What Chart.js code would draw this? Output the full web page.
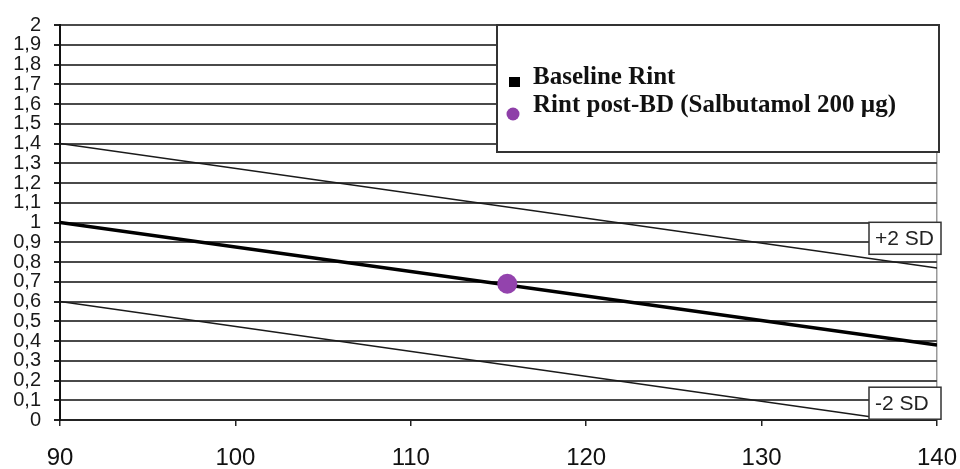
<!DOCTYPE html>
<html>
<head>
<meta charset="utf-8">
<script src="https://cdn.jsdelivr.net/npm/chart.js@4.4.1/dist/chart.umd.min.js"></script>
<style>
  html, body { margin: 0; padding: 0; background: #fff; }
  #wrap { width: 960px; height: 469px; }
</style>
</head>
<body>
<div id="wrap"><canvas id="rintChart" width="960" height="469"></canvas></div>
<script>
// height on x, Rint on y
const heightRange = [90, 140];
const baselineRint = [1.0, 0.38];
const upperSD = [1.4, 0.77];
const lowerSDx = [90, 137.5];
const lowerSD = [0.6, 0];
const postBD = [{ x: 115.5, y: 0.69 }];
const sdLabels = [
    { text: '+2 SD', y: 0.92 },
    { text: '-2 SD', y: 0.085 }
];

const toPoints = (xs, ys) => xs.map((x, i) => ({ x: x, y: ys[i] }));
const fmtComma = v => String(Math.round(v * 10) / 10).replace('.', ',');

// legend box + the +/-2 SD tags, drawn over the grid
const overlayPlugin = {
    id: 'overlay',
    afterDatasetsDraw(chart) {
        const ctx = chart.ctx;
        const area = chart.chartArea;
        const yScale = chart.scales.y;

        // legend
        const lx = area.left + 437, ly = area.top;
        const lw = area.right + 2 - lx, lh = 127;
        ctx.save();
        ctx.fillStyle = '#fff';
        ctx.fillRect(lx, ly, lw, lh);
        ctx.strokeStyle = '#333';
        ctx.lineWidth = 2;
        ctx.strokeRect(lx, ly, lw, lh);

        const items = chart.data.datasets
            .filter(d => d.legendShape)
            .sort((a, b) => a.legendIndex - b.legendIndex);
        ctx.font = 'bold 25px "Liberation Serif", "Times New Roman", serif';
        ctx.textBaseline = 'alphabetic';
        ctx.textAlign = 'left';
        items.forEach((d, i) => {
            const base = ly + 59 + i * 28;
            ctx.fillStyle = d.legendColor;
            if (d.legendShape === 'rect') {
                ctx.fillRect(lx + 12, base - 7, 11, 10);
            } else {
                ctx.beginPath();
                ctx.arc(lx + 16, base + 2, 6.5, 0, Math.PI * 2);
                ctx.fill();
            }
            ctx.fillStyle = '#111';
            ctx.fillText(d.label, lx + 36, base);
        });

        // SD tags
        ctx.font = '21px "Liberation Sans", Arial, sans-serif';
        ctx.textBaseline = 'middle';
        sdLabels.forEach(s => {
            const cy = yScale.getPixelForValue(s.y);
            const bw = 72, bh = 32;
            const bx = area.right + 4 - bw;
            ctx.fillStyle = '#fff';
            ctx.fillRect(bx, cy - bh / 2, bw, bh);
            ctx.strokeStyle = '#333';
            ctx.lineWidth = 1.5;
            ctx.strokeRect(bx, cy - bh / 2, bw, bh);
            ctx.fillStyle = '#222';
            ctx.fillText(s.text, bx + 6, cy + 1);
        });
        ctx.restore();
    }
};

const ctx = document.getElementById('rintChart').getContext('2d');
new Chart(ctx, {
    type: 'scatter',
    data: {
        datasets: [
            {
                label: 'Rint post-BD (Salbutamol 200 µg)',
                data: postBD,
                pointRadius: 10,
                pointBackgroundColor: '#9343ad',
                pointBorderWidth: 0,
                showLine: false,
                order: 0,
                legendShape: 'circle',
                legendIndex: 1,
                legendColor: '#8e3fa8'
            },
            {
                label: 'Baseline Rint',
                data: toPoints(heightRange, baselineRint),
                showLine: true,
                borderColor: '#000',
                borderWidth: 3.5,
                pointRadius: 0,
                order: 1,
                legendShape: 'rect',
                legendIndex: 0,
                legendColor: '#000'
            },
            {
                label: '+2 SD',
                data: toPoints(heightRange, upperSD),
                showLine: true,
                borderColor: '#1a1a1a',
                borderWidth: 1.5,
                pointRadius: 0,
                order: 1
            },
            {
                label: '-2 SD',
                data: toPoints(lowerSDx, lowerSD),
                showLine: true,
                borderColor: '#1a1a1a',
                borderWidth: 1.5,
                pointRadius: 0,
                order: 1
            }
        ]
    },
    options: {
        responsive: false,
        animation: false,
        layout: { padding: { top: 23, right: 23, left: 0, bottom: 0 } },
        plugins: {
            legend: { display: false },
            tooltip: { enabled: false }
        },
        scales: {
            x: {
                type: 'linear',
                min: 90,
                max: 140,
                afterFit: s => {
                    s.height = 49;
                    s.paddingLeft = 0;
                    s.paddingRight = 0;
                },
                ticks: {
                    stepSize: 10,
                    color: '#111',
                    padding: 18,
                    font: { family: '"Liberation Sans", Arial, sans-serif', size: 24 }
                },
                grid: {
                    drawOnChartArea: true,
                    color: c => (c.tick && c.tick.value === 140 ? '#9a9a9a' : 'rgba(0,0,0,0)'),
                    tickColor: '#222',
                    tickLength: 6,
                    lineWidth: 1.5
                },
                border: { color: '#222', width: 2 }
            },
            y: {
                min: 0,
                max: 2,
                afterFit: s => { s.width = 60; },
                ticks: {
                    stepSize: 0.1,
                    autoSkip: false,
                    color: '#1a1a1a',
                    padding: 13,
                    callback: v => fmtComma(v),
                    font: { family: '"Liberation Sans", Arial, sans-serif', size: 20 }
                },
                grid: {
                    color: '#4a4a4a',
                    lineWidth: 2,
                    tickColor: '#222',
                    tickLength: 6
                },
                border: { color: '#111', width: 2 }
            }
        }
    },
    plugins: [overlayPlugin]
});
</script>
</body>
</html>
